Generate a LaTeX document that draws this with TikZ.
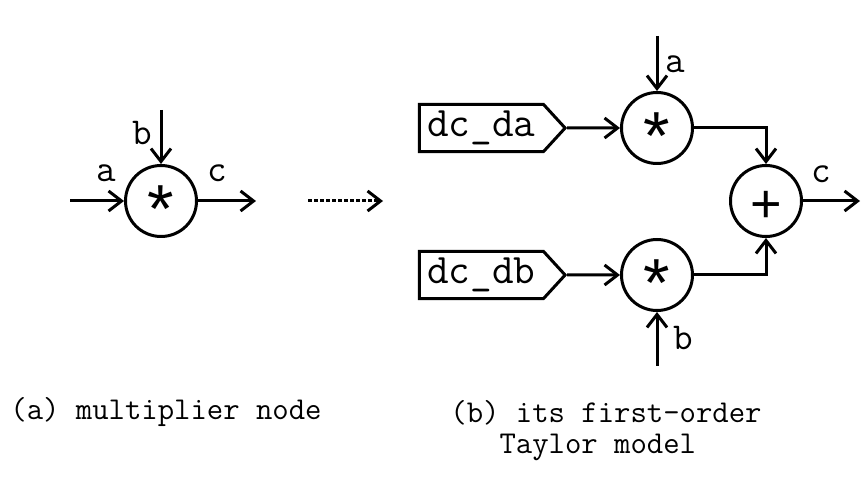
\documentclass[tikz,border=0pt]{standalone}
\usepackage{fontspec}
\newfontfamily\opfont{Liberation Sans}
\usetikzlibrary{shapes.symbols, arrows.meta, positioning}
\tikzstyle{arrow} = [line width=1.5pt, -{Straight Barb[length=6.5pt,width=10pt]}]
\tikzstyle{op} = [circle, draw, line width=1.5pt, minimum size=35.5pt, inner sep=0pt, font=\opfont\fontsize{34}{34}\selectfont]
\tikzstyle{lbl} = [anchor=base, inner sep=0pt, font=\ttfamily\fontsize{19}{19}\selectfont]
\tikzstyle{tag} = [signal, signal to=east, signal pointer angle=95, draw, line width=1.5pt, minimum height=17.5pt, inner xsep=4pt, font=\ttfamily\fontsize{21}{21}\selectfont]
\tikzstyle{caption} = [align=left, inner sep=0pt, font=\ttfamily\fontsize{15.9}{15.5}\selectfont]
\newcommand{\opsym}[2]{\raisebox{#2}[0pt][0pt]{#1}}

\begin{document}
\begin{tikzpicture}[x=0.5pt, y=-0.5pt]
    \useasboundingbox (0,0) rectangle (867,491);
    % (a) multiplier node
    \node (mul) [op] at (161,201) {\opsym{*}{-0.46em}};
    \coordinate (ina) at (70,201);
    \coordinate (inb) at (161,110);
    \coordinate (outc) at (256,201);
    \node (la) [lbl] at (106,182) {a};
    \node (lb) [lbl] at (142,145) {b};
    \node (lc) [lbl] at (217,182) {c};

    \draw [arrow] (ina) -- (mul);
    \draw [arrow] (inb) -- (mul);
    \draw [arrow] (mul) -- (outc);

    % transformation
    \coordinate (tfrom) at (308,201);
    \coordinate (tto) at (383,201);
    \draw [arrow, dash pattern=on 2pt off 1pt] (tfrom) -- (tto);

    % (b) first-order Taylor model
    \node (mula) [op] at (657,128) {\opsym{*}{-0.46em}};
    \node (mulb) [op] at (657,275) {\opsym{*}{-0.46em}};
    \node (add) [op, font=\opfont\fontsize{27}{27}\selectfont] at (766,201) {\opsym{+}{-0.4em}};
    \node (dcda) [tag, anchor=west] at (417.75,128) {dc\_da};
    \node (dcdb) [tag, anchor=west] at (417.75,275) {dc\_db};
    \coordinate (ta) at (657,36);
    \coordinate (tb) at (657,366);
    \coordinate (tc) at (860,201);
    \node (ra) [lbl] at (675,73) {a};
    \node (rb) [lbl] at (683,350) {b};
    \node (rc) [lbl] at (821,183) {c};

    \draw [arrow] (dcda) -- (mula);
    \draw [arrow] (dcdb) -- (mulb);
    \draw [arrow] (ta) -- (mula);
    \draw [arrow] (tb) -- (mulb);
    \draw [arrow] (mula) -| (add);
    \draw [arrow] (mulb) -| (add);
    \draw [arrow] (add) -- (tc);

    % captions
    \node (capa) [caption, anchor=west] at (10,412) {(a) multiplier node};
    \node (capb) [caption, anchor=north west] at (450,400) {(b) its first-order\\\phantom{(b)}Taylor model};
\end{tikzpicture}
\end{document}
